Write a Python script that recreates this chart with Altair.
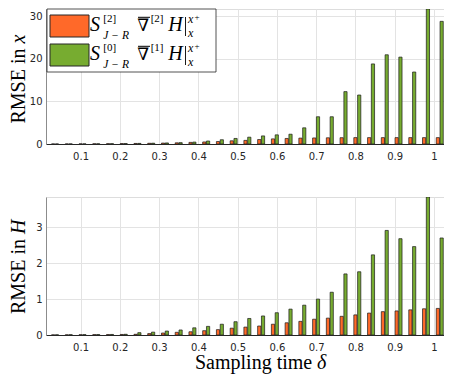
import altair as alt
import pandas as pd

# ---------------- data ----------------
delta = [0.035, 0.07, 0.105, 0.14, 0.175, 0.21, 0.245, 0.28, 0.315, 0.35,
         0.385, 0.42, 0.455, 0.49, 0.525, 0.56, 0.595, 0.63, 0.665, 0.7,
         0.735, 0.77, 0.805, 0.84, 0.875, 0.91, 0.945, 0.98, 1.015, 1.05]

x_orange = [0.01, 0.02, 0.03, 0.05, 0.07, 0.1, 0.13, 0.17, 0.22, 0.28,
            0.38, 0.48, 0.58, 0.75, 0.85, 1.05, 1.2, 1.3, 1.38, 1.42,
            1.46, 1.48, 1.5, 1.5, 1.5, 1.5, 1.5, 1.5, 1.5, 1.5]
x_green = [0.01, 0.02, 0.03, 0.05, 0.07, 0.1, 0.14, 0.19, 0.25, 0.32,
           0.45, 0.7, 1.0, 1.3, 1.6, 1.9, 2.15, 2.3, 3.8, 6.4,
           6.4, 12.3, 11.5, 18.8, 20.95, 20.4, 16.9, 31.7, 28.8, 28.0]

h_orange = [0.003, 0.005, 0.007, 0.01, 0.012, 0.015, 0.02, 0.04, 0.055, 0.075,
            0.09, 0.12, 0.15, 0.19, 0.22, 0.25, 0.30, 0.34, 0.38, 0.44,
            0.47, 0.52, 0.56, 0.61, 0.65, 0.67, 0.70, 0.73, 0.74, 0.77]
h_green = [0.005, 0.008, 0.01, 0.012, 0.015, 0.02, 0.065, 0.08, 0.11, 0.14,
           0.20, 0.24, 0.30, 0.37, 0.46, 0.53, 0.62, 0.72, 0.83, 1.0,
           1.19, 1.70, 1.76, 2.23, 2.91, 2.68, 2.46, 3.84, 2.70, 2.54]

x_ticks = [0.1, 0.2, 0.3, 0.4, 0.5, 0.6, 0.7, 0.8, 0.9, 1.0]
y_ticks_top = [0, 10, 20, 30]
y_ticks_bot = [0, 1, 2, 3]

ORANGE = "#FF6929"
GREEN = "#77AC30"
SERIF = "Liberation Serif"
SANS = "DejaVu Sans"
W = 407
one = alt.Data(values=[{"k": 1}])

X_DOMAIN = [0.0247, 1.036]


def bar_layer(vals, color, offset, ymax, yticks):
    df = pd.DataFrame({"delta": delta, "val": vals})
    x_axis = alt.Axis(values=x_ticks, format=".1~f", grid=True, gridColor="#e3e3e3",
                      tickSize=0, domainColor="#262626", domainWidth=1,
                      labelFont=SANS, labelFontSize=10, labelColor="#262626",
                      labelPadding=7, title=None)
    y_axis = alt.Axis(values=yticks, grid=True, gridColor="#e3e3e3", tickSize=0,
                      domainColor="#8c8c8c", domainWidth=1, labelFont=SANS,
                      labelFontSize=10, labelColor="#262626", labelPadding=4,
                      title=None)
    return alt.Chart(df).mark_bar(
        width=3.2, xOffset=offset, fill=color, stroke="#1a1a1a",
        strokeWidth=0.7, clip=True
    ).encode(
        x=alt.X("delta:Q", scale=alt.Scale(domain=X_DOMAIN, nice=False, zero=False), axis=x_axis),
        y=alt.Y("val:Q", scale=alt.Scale(domain=[0, ymax], nice=False), axis=y_axis),
    )


def txt(s, x, y, size, italic=False, font=SERIF, align="left", angle=0):
    return alt.Chart(one).mark_text(
        text=s, font=font, fontSize=size,
        fontStyle="italic" if italic else "normal",
        align=align, baseline="alphabetic", color="#000000", angle=angle
    ).encode(x=alt.value(x), y=alt.value(y))


def hrule(x1, x2, y, w=1.0):
    return alt.Chart(one).mark_rule(color="#000000", strokeWidth=w).encode(
        x=alt.value(x1), x2=alt.value(x2), y=alt.value(y))


def vrule(x, y1, y2, w=1.0):
    return alt.Chart(one).mark_rule(color="#000000", strokeWidth=w).encode(
        x=alt.value(x), y=alt.value(y1), y2=alt.value(y2))


def rect(x1, x2, y1, y2, fill, stroke="#262626", sw=0.8):
    return alt.Chart(one).mark_rect(fill=fill, stroke=stroke, strokeWidth=sw).encode(
        x=alt.value(x1), x2=alt.value(x2), y=alt.value(y1), y2=alt.value(y2))


def legend_row(dy, sup1, sup2, color):
    return [
        rect(4, 43, 6 + dy, 28 + dy, color, "#262626", 1.0),
        txt("S", 44, 22.3 + dy, 20, italic=True),
        txt(sup1, 57.3, 12.5 + dy, 11),
        txt("J \u2212 R", 57.3, 29.5 + dy, 11.5, italic=True),
        txt("\u2207", 91.3, 22.3 + dy, 17, font="DejaVu Serif"),
        hrule(92, 104, 8.3 + dy, 1.0),
        txt(sup2, 104.7, 12.5 + dy, 11),
        txt("H", 122.3, 22.3 + dy, 20, italic=True),
        vrule(139.5, 8 + dy, 27 + dy, 0.9),
        txt("x", 142, 14 + dy, 12, italic=True),
        txt("+", 148.5, 10.5 + dy, 9),
        txt("x", 142, 28 + dy, 12, italic=True),
    ]


top_layers = [
    bar_layer(x_orange, ORANGE, -1.9, 31.7, y_ticks_top),
    bar_layer(x_green, GREEN, 1.9, 31.7, y_ticks_top),
    rect(1, 170, 0, 63, "#ffffff", "#262626", 0.8),
]
top_layers += legend_row(0, "[2]", "[2]", ORANGE)
top_layers += legend_row(29, "[0]", "[1]", GREEN)
top_layers += [
    txt("RMSE in", -21, 114.5, 20, angle=270),
    txt("x", -21, 34.5, 20, italic=True, angle=270),
]
top = alt.layer(*top_layers).properties(width=W, height=135)

bot_layers = [
    bar_layer(h_orange, ORANGE, -1.9, 3.84, y_ticks_bot),
    bar_layer(h_green, GREEN, 1.9, 3.84, y_ticks_bot),
    txt("RMSE in", -21, 117, 20, angle=270),
    txt("H", -21, 37, 20, italic=True, angle=270),
    txt("Sampling time", 149, 172.3, 20),
    txt("\u03b4", 271, 172.3, 20, italic=True),
]
bottom = alt.layer(*bot_layers).properties(width=W, height=138)

chart = alt.vconcat(top, bottom, spacing=53, bounds="flush").properties(
    padding={"left": 0, "top": 0, "right": -10, "bottom": 0}
).configure_view(stroke=None).configure(background="#ffffff")

chart.save("out.html", embed_options={"renderer": "svg", "actions": False})
